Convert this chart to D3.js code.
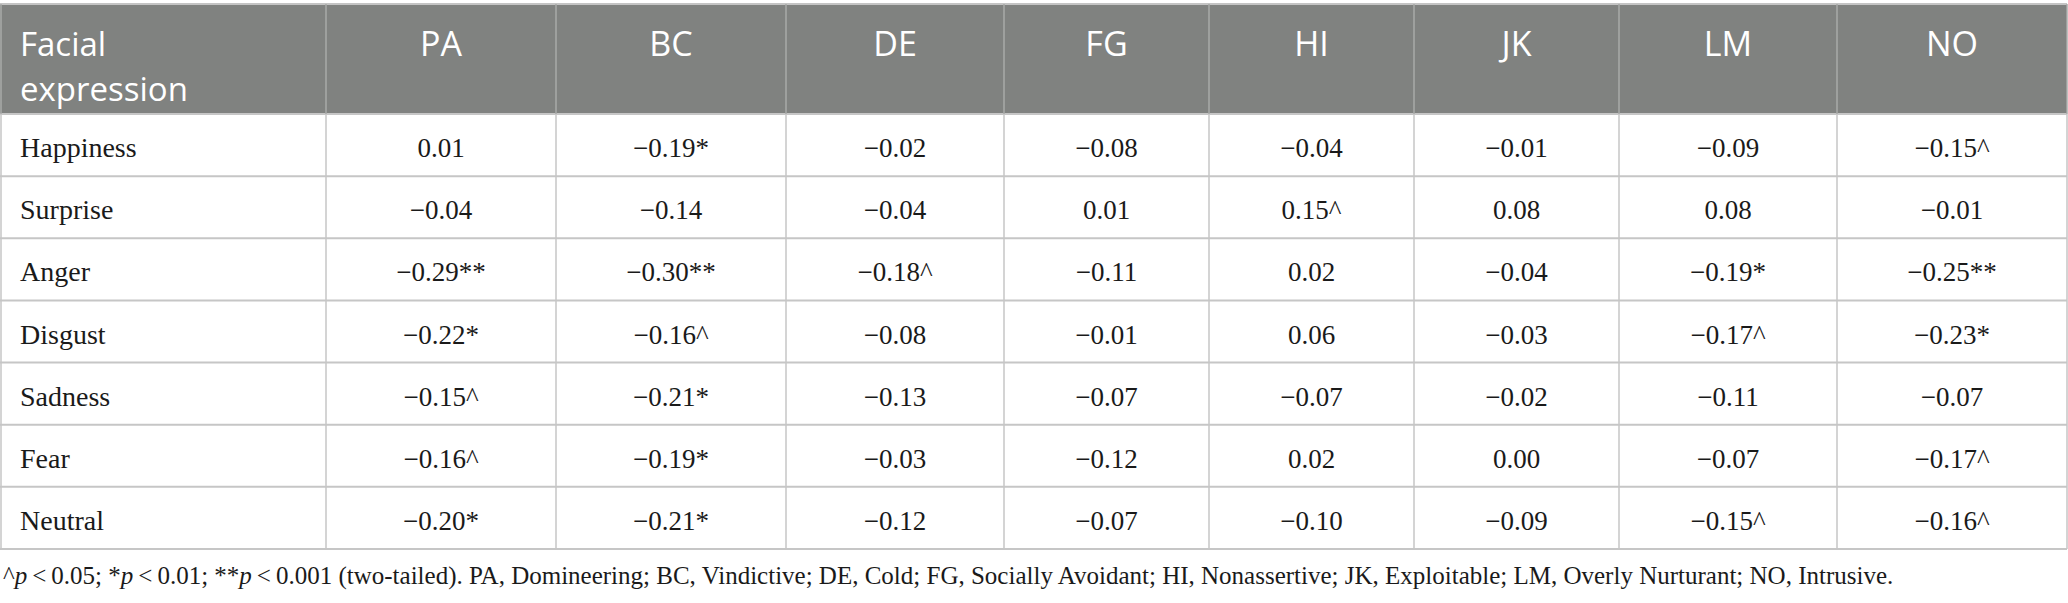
<!DOCTYPE html>
<html><head><meta charset="utf-8">
<script src="https://cdn.jsdelivr.net/npm/d3@7"></script>
<style>html,body{margin:0;padding:0;background:#fff;overflow:hidden;}</style>
</head><body><svg id="c"></svg>
<script>
// ---- data ----
const headerLabel = ["Facial", "expression"];
const columns = ["PA","BC","DE","FG","HI","JK","LM","NO"];
const expressions = ["Happiness","Surprise","Anger","Disgust","Sadness","Fear","Neutral"];
const happiness = [0.01,-0.19,-0.02,-0.08,-0.04,-0.01,-0.09,-0.15];
const surprise  = [-0.04,-0.14,-0.04,0.01,0.15,0.08,0.08,-0.01];
const anger     = [-0.29,-0.30,-0.18,-0.11,0.02,-0.04,-0.19,-0.25];
const disgust   = [-0.22,-0.16,-0.08,-0.01,0.06,-0.03,-0.17,-0.23];
const sadness   = [-0.15,-0.21,-0.13,-0.07,-0.07,-0.02,-0.11,-0.07];
const fear      = [-0.16,-0.19,-0.03,-0.12,0.02,0.00,-0.07,-0.17];
const neutral   = [-0.20,-0.21,-0.12,-0.07,-0.10,-0.09,-0.15,-0.16];
const happinessSig = ["","*","","","","","","^"];
const surpriseSig  = ["","","","","^","","",""];
const angerSig     = ["**","**","^","","","","*","**"];
const disgustSig   = ["*","^","","","","","^","*"];
const sadnessSig   = ["^","*","","","","","",""];
const fearSig      = ["^","*","","","","","","^"];
const neutralSig   = ["*","*","","","","","^","^"];
const footnoteParts = [
  ["^",false],["p",true],["\u2009<\u20090.05; *",false],["p",true],["\u2009<\u20090.01; **",false],["p",true],
  ["\u2009<\u20090.001 (two-tailed). PA, Domineering; BC, Vindictive; DE, Cold; FG, Socially Avoidant; HI, Nonassertive; JK, Exploitable; LM, Overly Nurturant; NO, Intrusive.",false]
];

const values = [happiness,surprise,anger,disgust,sadness,fear,neutral];
const sigs = [happinessSig,surpriseSig,angerSig,disgustSig,sadnessSig,fearSig,neutralSig];

// ---- layout ----
const W = 2068, H = 603;
const tableTop = 4, headerBottom = 114, tableBottom = 549, tableRight = 2067;
const firstColW = 326;
const colWidths = [230,230,218,205,205,205,218,230];
const edges = [firstColW];
colWidths.forEach(w => edges.push(edges[edges.length-1] + w));

const svg = d3.select("#c").attr("width", W).attr("height", H);

const xLeft = d3.scaleOrdinal().domain(columns).range(edges.slice(0, 8));
const xWidth = d3.scaleOrdinal().domain(columns).range(colWidths);
const y = d3.scaleBand().domain(expressions).range([headerBottom, tableBottom]);

const serif = "'Liberation Serif','Times New Roman',serif";
const sans = "'Open Sans','Noto Sans',sans-serif";

// header background
svg.append("rect").attr("x", 0).attr("y", tableTop).attr("width", tableRight).attr("height", headerBottom - tableTop)
  .attr("fill", "#808280");

// horizontal lines
svg.append("line").attr("x1", 0).attr("x2", tableRight).attr("y1", tableTop).attr("y2", tableTop)
  .attr("stroke", "#c4c4c4").attr("stroke-width", 2);
const hLines = expressions.map(e => y(e)).concat([tableBottom]);
svg.selectAll("line.h").data(hLines).join("line").attr("class", "h")
  .attr("x1", 0).attr("x2", tableRight).attr("y1", d => d).attr("y2", d => d)
  .attr("stroke", "#c6c6c6").attr("stroke-width", 2);

// vertical lines
const vLines = [1].concat(edges.slice(0, 8)).concat([tableRight]);
svg.selectAll("line.vh").data(vLines).join("line").attr("class", "vh")
  .attr("x1", d => d).attr("x2", d => d).attr("y1", tableTop).attr("y2", headerBottom)
  .attr("stroke", "#a8aaa8").attr("stroke-width", 1.5);
svg.selectAll("line.vb").data(vLines).join("line").attr("class", "vb")
  .attr("x1", d => d).attr("x2", d => d).attr("y1", headerBottom).attr("y2", tableBottom)
  .attr("stroke", "#c6c6c6").attr("stroke-width", 1.5);

// header text
svg.selectAll("text.hl").data(headerLabel).join("text").attr("class", "hl")
  .attr("x", 20).attr("y", (d, i) => 56 + i * 45)
  .attr("fill", "#fff").attr("font-family", sans).attr("font-size", 33).text(d => d);
svg.selectAll("text.hc").data(columns).join("text").attr("class", "hc")
  .attr("x", d => xLeft(d) + xWidth(d) / 2).attr("y", 56)
  .attr("text-anchor", "middle").attr("fill", "#fff").attr("font-family", sans).attr("font-size", 34)
  .text(d => d);

// body
const fmt = v => (v < 0 ? "\u2212" : "") + Math.abs(v).toFixed(2);
const rowG = svg.selectAll("g.row").data(expressions).join("g").attr("class", "row")
  .attr("transform", d => `translate(0,${y(d) + y.bandwidth() / 2 + 12})`);
rowG.append("text").attr("x", 20).attr("font-family", serif).attr("font-size", 28).attr("fill", "#1a1a1a")
  .text(d => d);
rowG.each(function(e, ri) {
  d3.select(this).selectAll("text.v").data(columns).join("text").attr("class", "v")
    .attr("x", c => xLeft(c) + xWidth(c) / 2)
    .attr("text-anchor", "middle").attr("font-family", serif).attr("font-size", 27).attr("fill", "#1a1a1a")
    .text((c, ci) => fmt(values[ri][ci]) + sigs[ri][ci]);
});

// footnote
const fn = svg.append("text").attr("x", 3).attr("y", 584).attr("font-family", serif)
  .attr("font-size", 25).attr("fill", "#1a1a1a");
fn.selectAll("tspan").data(footnoteParts).join("tspan")
  .attr("font-style", d => d[1] ? "italic" : "normal").text(d => d[0]);
</script>
</body></html>
